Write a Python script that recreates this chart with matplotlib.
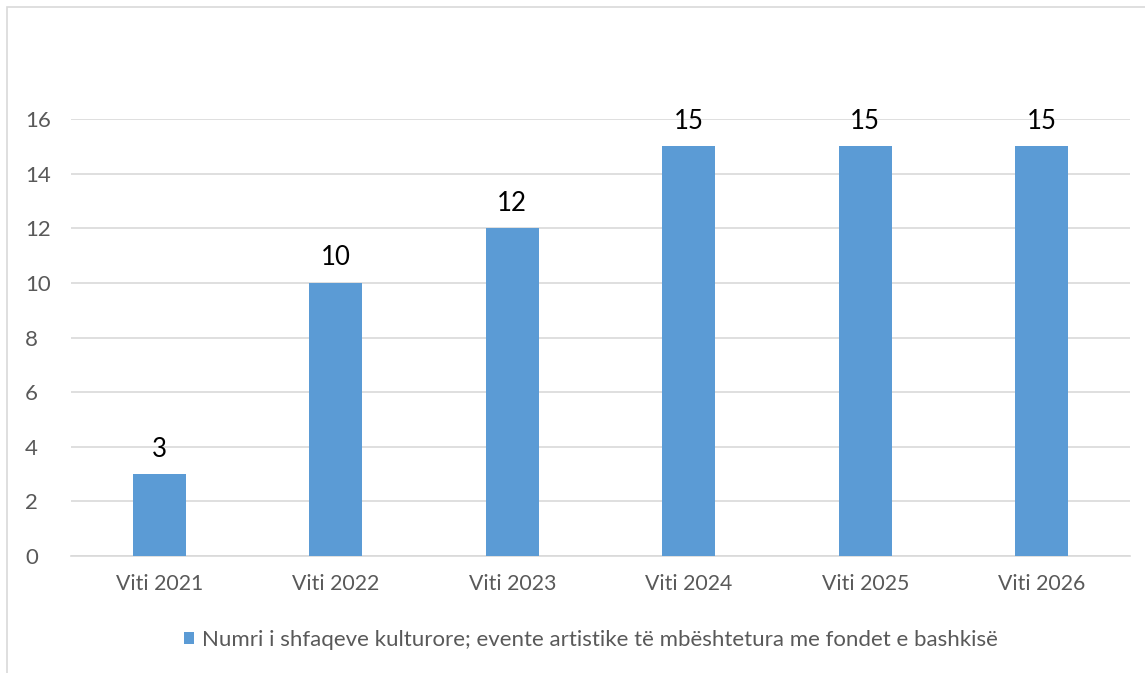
import matplotlib
matplotlib.use('Agg')
import matplotlib.pyplot as plt
from matplotlib.patches import Rectangle
import numpy as np

# të dhënat
vitet = ['Viti 2021', 'Viti 2022', 'Viti 2023', 'Viti 2024', 'Viti 2025', 'Viti 2026']
numri_shfaqeve = [3, 10, 12, 15, 15, 15]
seria = 'Numri i shfaqeve kulturore; evente artistike të mbështetura me fondet e bashkisë'
y_ticks = [0, 2, 4, 6, 8, 10, 12, 14, 16]

plt.rcParams['font.family'] = ['Lato', 'DejaVu Sans']

fig = plt.figure(figsize=(11.45, 6.73), dpi=100)
ax = fig.add_axes([0.062, 0.174, 0.925, 0.649])

x = np.arange(len(vitet))
bars = ax.bar(x, numri_shfaqeve, width=0.3, color='#5B9BD5', label=seria, zorder=3)

# etiketat mbi shtyllat
for b, v in zip(bars, numri_shfaqeve):
    ax.annotate(str(v), (b.get_x() + b.get_width() / 2, v), xytext=(0, 9),
                textcoords='offset points', ha='center', va='bottom',
                fontsize=18.5, color='black')

ax.set_xlim(-0.5, len(vitet) - 0.5)
ax.set_ylim(0, 16)
ax.set_yticks(y_ticks)
ax.set_xticks(x)
ax.set_xticklabels(vitet)
ax.tick_params(axis='both', length=0, labelsize=15.3, labelcolor='#595959')
ax.tick_params(axis='x', pad=13)
ax.tick_params(axis='y', pad=33, labelsize=16)
for lbl in ax.get_yticklabels():
    lbl.set_horizontalalignment('left')
ax.yaxis.grid(True, color='#d9d9d9', linewidth=1.2, zorder=0)
for s in ['top', 'right', 'left']:
    ax.spines[s].set_visible(False)
ax.spines['bottom'].set_color('#d9d9d9')
ax.spines['bottom'].set_linewidth(1.2)

fig.legend(handles=[bars], labels=[seria], loc='center', bbox_to_anchor=(0.516, 0.049),
           frameon=False, fontsize=16, labelcolor='#595959',
           handlelength=0.45, handleheight=0.45, handletextpad=0.35)

# korniza e grafikut
fig.patches.append(Rectangle((7 / 1145, -0.1), 1.2, 1.1 - 7 / 673, transform=fig.transFigure,
                             fill=False, edgecolor='#d9d9d9', linewidth=1.2))

fig.savefig('out.png', dpi=100)
